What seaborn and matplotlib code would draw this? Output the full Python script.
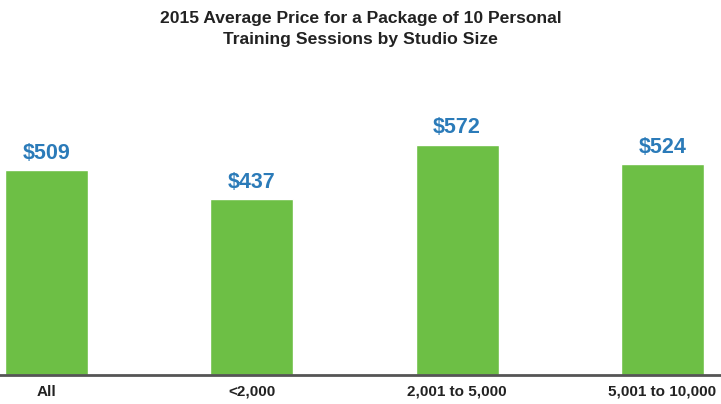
import matplotlib
matplotlib.use("Agg")
import matplotlib.pyplot as plt
import seaborn as sns
import pandas as pd

categories = ["All", "<2,000", "2,001 to 5,000", "5,001 to 10,000"]
values = [509, 437, 572, 524]
value_labels = ["$509", "$437", "$572", "$524"]

sns.set_theme(style="white")
plt.rcParams['font.family'] = ['Liberation Sans', 'DejaVu Sans']

df = pd.DataFrame({"cat": categories, "val": values})

fig = plt.figure(figsize=(7.21, 4.04), dpi=100)
ax = fig.add_axes([0, 29/404, 1, 275/404])
sns.barplot(data=df, x="cat", y="val", color="#6dbf45", saturation=1, width=0.404, ax=ax)

for i, (v, lab) in enumerate(zip(values, value_labels)):
    ax.text(i, v + 16, lab, ha="center", va="bottom", color="#2b7bb9",
            fontsize=15.5, fontweight="bold")

ax.set_xlim(-0.226, 3.285)
ax.set_ylim(0, 275 / (205 / 509))
ax.set_xlabel("")
ax.set_ylabel("")
ax.set_yticks([])
for s in ["top", "right", "left"]:
    ax.spines[s].set_visible(False)
ax.spines["bottom"].set_color("#555555")
ax.spines["bottom"].set_linewidth(2)
ax.tick_params(axis="x", length=0, pad=7)
for t in ax.get_xticklabels():
    t.set_family(['Liberation Sans Narrow', 'Liberation Sans'])
    t.set_fontweight("bold")
    t.set_fontsize(11)
    t.set_color("#222222")

fig.text(0.5, 0.972, "2015 Average Price for a Package of 10 Personal\nTraining Sessions by Studio Size",
         ha="center", va="top", fontsize=12.6, fontweight="bold", color="#222222", linespacing=1.5)

fig.savefig("out.png", dpi=100)
